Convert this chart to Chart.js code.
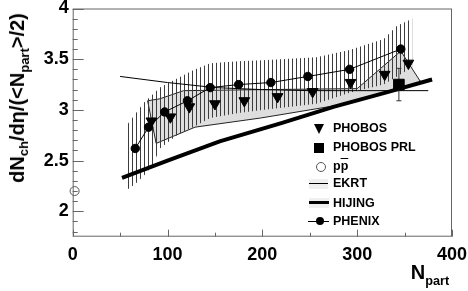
<!DOCTYPE html>
<html>
<head>
<meta charset="utf-8">
<script src="https://cdn.jsdelivr.net/npm/chart.js@4.4.1/dist/chart.umd.min.js"></script>
<style>
  html, body { margin: 0; padding: 0; background: #fff; }
  #wrap { position: relative; width: 468px; height: 291px; font-family: "Liberation Sans", Arial, Helvetica, sans-serif; font-weight: bold; color: #000; }
  #chart { position: absolute; left: 0; top: 0; }
  .txt { position: absolute; white-space: nowrap; line-height: 1; }
  .leg { font-size: 12.5px; left: 333px; }
  .sub { position: relative; }
  .sym { position: absolute; }
</style>
</head>
<body>
<div id="wrap">
  <canvas id="chart" width="468" height="291"></canvas>

  <!-- axis titles -->
  <div class="txt" id="ytitle" style="font-size:20px; left:16.7px; top:97.5px; transform:translate(-50%,-50%) rotate(-90deg);">dN<span class="sub" style="font-size:13px; top:4px;">ch</span>/dη/(&lt;N<span class="sub" style="font-size:13px; top:5px;">part</span>&gt;/2)</div>
  <div class="txt" style="font-size:20px; left:410.7px; top:262.4px;">N<span class="sub" style="font-size:12.7px; top:5.5px;">part</span></div>

  <!-- legend -->
  <div class="sym" style="left:314px; top:123.5px; width:0; height:0; border-left:5.5px solid transparent; border-right:5.5px solid transparent; border-top:10px solid #000;"></div>
  <div class="txt leg" style="top:122.4px;">PHOBOS</div>
  <div class="sym" style="left:313.5px; top:142.5px; width:10px; height:10px; background:#000;"></div>
  <div class="txt leg" style="top:141.1px;">PHOBOS PRL</div>
  <div class="sym" style="left:315.5px; top:162.2px; width:8px; height:8px; border:1px solid #555; border-radius:50%;"></div>
  <div class="txt leg" style="top:160.3px;">p<span style="text-decoration:overline;">p</span></div>
  <div class="sym" style="left:309px; top:179px; width:19px; height:10px; background:#efefef;"></div>
  <div class="sym" style="left:309px; top:183px; width:19px; height:1px; background:#000;"></div>
  <div class="txt leg" style="top:177.3px;">EKRT</div>
  <div class="sym" style="left:309px; top:198px; width:20px; height:10px; background:#efefef;"></div>
  <div class="sym" style="left:309px; top:201.3px; width:20px; height:3px; background:#000;"></div>
  <div class="txt leg" style="top:196.7px;">HIJING</div>
  <div class="sym" style="left:308px; top:220.5px; width:21px; height:1px; background:#000;"></div>
  <div class="sym" style="left:315.5px; top:217px; width:8px; height:8px; background:#000; border-radius:50%;"></div>
  <div class="txt leg" style="top:215.1px;">PHENIX</div>
</div>

<script>
// ---- data ----
const phobosN = [83, 103, 123, 150, 181, 216, 253, 293, 329, 354];
const phobosY = [2.89, 2.93, 3.03, 3.06, 3.09, 3.13, 3.18, 3.27, 3.35, 3.46];

const phenixN = [66, 80, 97, 121, 145, 175, 209, 248, 292, 346];
const phenixY = [2.62, 2.83, 2.98, 3.09, 3.22, 3.25, 3.27, 3.33, 3.40, 3.60];

// PHENIX systematic band (hatched)
const hatchN    = [57, 66, 75, 84, 92, 110, 127, 145, 175, 200, 257, 292, 328, 342, 358];
const hatchHigh = [2.85, 2.96, 3.07, 3.15, 3.22, 3.31, 3.39, 3.46, 3.48, 3.49, 3.52, 3.59, 3.70, 3.83, 3.90];
const hatchLow  = [2.21, 2.27, 2.35, 2.45, 2.62, 2.75, 2.83, 2.92, 2.97, 3.00, 3.06, 3.17, 3.25, 3.33, 3.42];

// PHOBOS systematic band (grey)
const bandTopN = [79, 92, 117, 200, 300, 346, 366];
const bandTopY = [3.09, 3.11, 3.19, 3.20, 3.21, 3.58, 3.29];
const bandBotN = [88, 129, 198, 282, 366];
const bandBotY = [2.67, 2.83, 2.92, 3.05, 3.27];

const ekrtN = [50, 100, 150, 200, 250, 300, 375];
const ekrtY = [3.33, 3.27, 3.22, 3.20, 3.19, 3.19, 3.19];

const hijingN = [52, 100, 155, 220, 275, 330, 379];
const hijingY = [2.33, 2.50, 2.69, 2.87, 3.03, 3.17, 3.30];

const prlN = [344];
const prlY = [3.25];
const prlErr = [0.16];

const ppN = [2];
const ppY = [2.2];

const xTicks = [0, 100, 200, 300, 400];
const yTicks = [2, 2.5, 3, 3.5, 4];

// ---- helpers ----
const pts = (xs, ys) => xs.map((x, i) => ({ x: x, y: ys[i] }));

function polygon(topX, topY, botX, botY) {
    const p = pts(topX, topY);
    for (let i = botX.length - 1; i >= 0; i--) p.push({ x: botX[i], y: botY[i] });
    p.push({ x: topX[0], y: topY[0] });
    return p;
}

// vertical hatch pattern
const pc = document.createElement('canvas');
pc.width = 4; pc.height = 4;
const pctx = pc.getContext('2d');
pctx.fillStyle = '#3c3c3c';
pctx.fillRect(0, 0, 1, 4);
const hatch = pctx.createPattern(pc, 'repeat');

// frame + inward ticks
const frameTicks = {
    id: 'frameTicks',
    afterDatasetsDraw(chart) {
        const { ctx, chartArea: a, scales: { x, y } } = chart;
        ctx.save();
        ctx.strokeStyle = '#666';
        ctx.lineWidth = 1;
        ctx.strokeRect(a.left + 0.5, a.top + 0.5, a.right - a.left - 1, a.bottom - a.top - 1);
        ctx.beginPath();
        for (let v = 0; v <= 400; v += 50) {
            const px = Math.round(x.getPixelForValue(v)) + 0.5;
            const len = v % 100 === 0 ? 7 : 4;
            ctx.moveTo(px, a.bottom);
            ctx.lineTo(px, a.bottom - len);
        }
        for (let k = 18; k <= 40; k++) {
            const py = Math.round(y.getPixelForValue(k / 10)) + 0.5;
            const len = k % 5 === 0 ? 11 : 5;
            ctx.moveTo(a.left, py);
            ctx.lineTo(a.left + len, py);
        }
        ctx.stroke();
        ctx.restore();
    }
};

Chart.defaults.font.family = '"Liberation Sans", Arial, Helvetica, sans-serif';

const errBar = [];
prlN.forEach((n, i) => {
    errBar.push({ x: n, y: prlY[i] - prlErr[i] });
    errBar.push({ x: n, y: prlY[i] + prlErr[i] });
});

new Chart(document.getElementById('chart'), {
    type: 'scatter',
    data: {
        datasets: [
            {
                label: 'PHOBOS band',
                data: polygon(bandTopN, bandTopY, bandBotN, bandBotY),
                showLine: true,
                fill: 'shape',
                backgroundColor: '#dedede',
                borderColor: '#222',
                borderWidth: 1,
                pointRadius: 0,
                order: 9
            },
            {
                label: 'PHENIX band',
                data: polygon(hatchN, hatchHigh, hatchN, hatchLow),
                showLine: true,
                fill: 'shape',
                backgroundColor: hatch,
                borderWidth: 0,
                borderColor: 'rgba(0,0,0,0)',
                pointRadius: 0,
                order: 8
            },
            {
                label: 'HIJING',
                data: pts(hijingN, hijingY),
                showLine: true,
                borderColor: '#000',
                borderWidth: 4,
                pointRadius: 0,
                order: 7
            },
            {
                label: 'EKRT',
                data: pts(ekrtN, ekrtY),
                showLine: true,
                borderColor: '#000',
                borderWidth: 1,
                pointRadius: 0,
                order: 6
            },
            {
                label: 'PHENIX',
                data: pts(phenixN, phenixY),
                showLine: true,
                borderColor: '#000',
                borderWidth: 1,
                pointStyle: 'circle',
                pointRadius: 4.2,
                pointBackgroundColor: '#000',
                pointBorderColor: '#000',
                order: 5
            },
            {
                label: 'PHOBOS',
                data: pts(phobosN, phobosY),
                pointStyle: 'triangle',
                rotation: 180,
                pointRadius: 6.2,
                pointBackgroundColor: '#000',
                pointBorderColor: '#000',
                pointBorderWidth: 1,
                order: 4
            },
            {
                label: 'PRL err',
                data: errBar,
                showLine: true,
                borderColor: '#333',
                borderWidth: 1,
                pointStyle: 'line',
                pointRadius: 2.5,
                pointBorderColor: '#333',
                pointBorderWidth: 1,
                order: 3
            },
            {
                label: 'PHOBOS PRL',
                data: pts(prlN, prlY),
                pointStyle: 'rect',
                pointRadius: 7.5,
                pointBackgroundColor: '#000',
                pointBorderColor: '#000',
                order: 2
            },
            {
                label: 'ppbar',
                data: pts(ppN, ppY),
                pointStyle: 'circle',
                pointRadius: 4.5,
                pointBackgroundColor: 'rgba(0,0,0,0)',
                pointBorderColor: '#555',
                pointBorderWidth: 1,
                clip: false,
                order: 1
            }
        ]
    },
    options: {
        responsive: false,
        animation: false,
        devicePixelRatio: 1,
        layout: { padding: { left: 0, right: 16, top: 6, bottom: 0 } },
        plugins: {
            legend: { display: false },
            tooltip: { enabled: false }
        },
        scales: {
            x: {
                type: 'linear',
                min: 0,
                max: 400,
                grid: { display: false, drawTicks: false },
                border: { display: false },
                afterBuildTicks: s => { s.ticks = xTicks.map(v => ({ value: v })); },
                afterFit: s => { s.height = 54.3; s.paddingLeft = 0; s.paddingRight = 0; },
                ticks: {
                    color: '#000',
                    padding: 8,
                    maxRotation: 0,
                    autoSkip: false,
                    font: { size: 18, weight: 'bold' },
                    callback: v => String(v)
                }
            },
            y: {
                type: 'linear',
                min: 1.75,
                max: 4,
                grid: { display: false, drawTicks: false },
                border: { display: false },
                afterBuildTicks: s => { s.ticks = yTicks.map(v => ({ value: v })); },
                afterFit: s => { s.width = 72.7; s.paddingTop = 0; s.paddingBottom = 0; },
                ticks: {
                    color: '#000',
                    padding: 4,
                    autoSkip: false,
                    font: { size: 18, weight: 'bold' },
                    callback: v => String(v)
                }
            }
        }
    },
    plugins: [frameTicks]
});
</script>
</body>
</html>
